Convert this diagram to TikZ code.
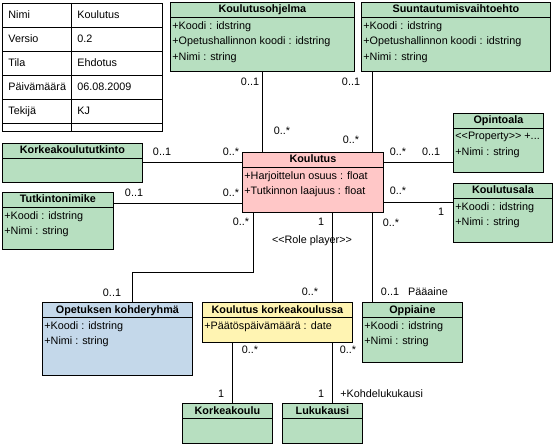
\documentclass[tikz,border=0pt]{standalone}
\usepackage{fontspec}
\setmainfont{Liberation Sans}
\usepackage{xcolor}
\usepackage{tikz}

\definecolor{clsgreen}{RGB}{183,223,192}
\definecolor{clspink}{RGB}{255,199,199}
\definecolor{clsblue}{RGB}{196,216,234}
\definecolor{clsyellow}{RGB}{255,244,178}

\begin{document}
\begin{tikzpicture}[x=1pt,y=-1pt,line width=0.8pt,
  font=\fontsize{10.8}{15.5}\selectfont,
  cls/.style={draw,anchor=north west,inner sep=0pt},
  ttl/.style={font=\fontsize{10.8}{15.5}\selectfont\bfseries,anchor=base,inner sep=0pt},
  attr/.style={anchor=north west,align=left,inner sep=0pt},
  mult/.style={inner sep=0pt}]
  \useasboundingbox (0,0) rectangle (556,446);

  % info table
  \draw (2,3) rectangle (162,131);
  \draw (71,3) -- (71,131);
  \foreach \y in {27,51,75,99,123} \draw (2,\y) -- (162,\y);
  \foreach \k/\v [count=\i] in {Nimi/Koulutus,Versio/0.2,Tila/Ehdotus,
      Päivämäärä/06.08.2009,Tekijä/KJ} {
    \node[anchor=base west,inner sep=0pt] (key\i) at (8,{24*\i-5}) {\k};
    \node[anchor=base west,inner sep=0pt] (val\i) at (77,{24*\i-5}) {\v};
  }

  % classes
  \node[cls,fill=clsgreen,minimum width=184pt,minimum height=69pt] (kohjelma) at (170,2) {};
  \node[ttl] at ([yshift=-11pt]kohjelma.north) {Koulutusohjelma};
  \draw ([yshift=-15pt]kohjelma.north west) -- ([yshift=-15pt]kohjelma.north east);
  \node[attr] at ([xshift=2pt,yshift=-19pt]kohjelma.north west)
    {+Koodi : idstring\\+Opetushallinnon koodi : idstring\\+Nimi : string};

  \node[cls,fill=clsgreen,minimum width=189pt,minimum height=69pt] (suunt) at (361,2) {};
  \node[ttl] at ([yshift=-11pt]suunt.north) {Suuntautumisvaihtoehto};
  \draw ([yshift=-15pt]suunt.north west) -- ([yshift=-15pt]suunt.north east);
  \node[attr] at ([xshift=2pt,yshift=-19pt]suunt.north west)
    {+Koodi : idstring\\+Opetushallinnon koodi : idstring\\+Nimi : string};

  \node[cls,fill=clsgreen,minimum width=140pt,minimum height=39pt] (korktutk) at (2,143) {};
  \node[ttl] at ([yshift=-11pt]korktutk.north) {Korkeakoulututkinto};
  \draw ([yshift=-15pt]korktutk.north west) -- ([yshift=-15pt]korktutk.north east);

  \node[cls,fill=clsgreen,minimum width=111pt,minimum height=57pt] (tutknimike) at (2,192) {};
  \node[ttl] at ([yshift=-11pt]tutknimike.north) {Tutkintonimike};
  \draw ([yshift=-15pt]tutknimike.north west) -- ([yshift=-15pt]tutknimike.north east);
  \node[attr] at ([xshift=2pt,yshift=-19pt]tutknimike.north west)
    {+Koodi : idstring\\+Nimi : string};

  \node[cls,fill=clspink,minimum width=141pt,minimum height=60pt] (koulutus) at (242,152) {};
  \node[ttl] at ([yshift=-11pt]koulutus.north) {Koulutus};
  \draw ([yshift=-15pt]koulutus.north west) -- ([yshift=-15pt]koulutus.north east);
  \node[attr] at ([xshift=2pt,yshift=-19pt]koulutus.north west)
    {+Harjoittelun osuus : float\\+Tutkinnon laajuus : float};

  \node[cls,fill=clsgreen,minimum width=90pt,minimum height=59pt] (opintoala) at (453,113) {};
  \node[ttl] at ([yshift=-11pt]opintoala.north) {Opintoala};
  \draw ([yshift=-15pt]opintoala.north west) -- ([yshift=-15pt]opintoala.north east);
  \node[attr] at ([xshift=2pt,yshift=-19pt]opintoala.north west)
    {<{}<Property>{}> +...\\+Nimi : string};

  \node[cls,fill=clsgreen,minimum width=99pt,minimum height=59pt] (koulutusala) at (453,183) {};
  \node[ttl] at ([yshift=-11pt]koulutusala.north) {Koulutusala};
  \draw ([yshift=-15pt]koulutusala.north west) -- ([yshift=-15pt]koulutusala.north east);
  \node[attr] at ([xshift=2pt,yshift=-19pt]koulutusala.north west)
    {+Koodi : idstring\\+Nimi : string};

  \node[cls,fill=clsblue,minimum width=150pt,minimum height=73pt] (kohderyhma) at (42,302) {};
  \node[ttl] at ([yshift=-11pt]kohderyhma.north) {Opetuksen kohderyhmä};
  \draw ([yshift=-15pt]kohderyhma.north west) -- ([yshift=-15pt]kohderyhma.north east);
  \node[attr] at ([xshift=2pt,yshift=-19pt]kohderyhma.north west)
    {+Koodi : idstring\\+Nimi : string};

  \node[cls,fill=clsyellow,minimum width=150pt,minimum height=40pt] (kkk) at (202,302) {};
  \node[ttl] at ([yshift=-11pt]kkk.north) {Koulutus korkeakoulussa};
  \draw ([yshift=-15pt]kkk.north west) -- ([yshift=-15pt]kkk.north east);
  \node[attr] at ([xshift=2pt,yshift=-19pt]kkk.north west)
    {+Päätöspäivämäärä : date};

  \node[cls,fill=clsgreen,minimum width=100pt,minimum height=60pt] (oppiaine) at (362,302) {};
  \node[ttl] at ([yshift=-11pt]oppiaine.north) {Oppiaine};
  \draw ([yshift=-15pt]oppiaine.north west) -- ([yshift=-15pt]oppiaine.north east);
  \node[attr] at ([xshift=2pt,yshift=-19pt]oppiaine.north west)
    {+Koodi : idstring\\+Nimi : string};

  \node[cls,fill=clsgreen,minimum width=90pt,minimum height=40pt] (korkeakoulu) at (182,403) {};
  \node[ttl] at ([yshift=-11pt]korkeakoulu.north) {Korkeakoulu};
  \draw ([yshift=-15pt]korkeakoulu.north west) -- ([yshift=-15pt]korkeakoulu.north east);

  \node[cls,fill=clsgreen,minimum width=80pt,minimum height=40pt] (lukukausi) at (282,403) {};
  \node[ttl] at ([yshift=-11pt]lukukausi.north) {Lukukausi};
  \draw ([yshift=-15pt]lukukausi.north west) -- ([yshift=-15pt]lukukausi.north east);

  % associations
  \coordinate (vprog) at (262,0);
  \coordinate (vsuun) at (372,0);
  \coordinate (vrole) at (332,0);
  \coordinate (vkork) at (232,0);
  \coordinate (htutk) at (0,203);
  \coordinate (hopin) at (0,162);
  \coordinate (hala) at (0,202);
  \coordinate (bend) at (132,272);

  \draw (vprog |- kohjelma.south) -- (vprog |- koulutus.north);
  \draw (vsuun |- suunt.south) -- (vsuun |- koulutus.north);
  \draw (korktutk.east) -- (korktutk.east -| koulutus.west);
  \draw (htutk -| tutknimike.east) -- (htutk -| koulutus.west);
  \draw (hopin -| koulutus.east) -- (hopin -| opintoala.west);
  \draw (hala -| koulutus.east) -- (hala -| koulutusala.west);
  \draw ([xshift=11pt]koulutus.south west) |- (bend) -- (bend |- kohderyhma.north);
  \draw (vrole |- koulutus.south) -- (vrole |- kkk.north);
  \draw (vsuun |- koulutus.south) -- (vsuun |- oppiaine.north);
  \draw (vkork |- kkk.south) -- (vkork |- korkeakoulu.north);
  \draw (vrole |- kkk.south) -- (vrole |- lukukausi.north);

  % multiplicities and roles
  \node[mult] (m1) at (250,82) {0..1};
  \node[mult] (m2) at (282,131) {0..*};
  \node[mult] (m3) at (351,82) {0..1};
  \node[mult] (m4) at (351,140) {0..*};
  \node[mult] (m5) at (162,152) {0..1};
  \node[mult] (m6) at (231,152) {0..*};
  \node[mult] (m7) at (134,193) {0..1};
  \node[mult] (m8) at (231,193) {0..*};
  \node[mult] (m9) at (398,152) {0..*};
  \node[mult] (m10) at (431,152) {0..1};
  \node[mult] (m11) at (398,191) {0..*};
  \node[mult] (m12) at (441,212) {1};
  \node[mult] (m13) at (241,222) {0..*};
  \node[mult] (m14) at (321,222) {1};
  \node[mult] (m15) at (391,223) {0..*};
  \node[mult] (role) at (312,241) {<{}<Role player>{}>};
  \node[mult] (m16) at (112,293) {0..1};
  \node[mult] (m17) at (310,292) {0..*};
  \node[mult] (m18) at (390,292) {0..1};
  \node[mult] (paaaine) at (428,292) {Pääaine};
  \node[mult] (m19) at (250,350) {0..*};
  \node[mult] (m20) at (348,350) {0..*};
  \node[mult] (m21) at (221,394) {1};
  \node[mult] (m22) at (321,394) {1};
  \node[mult,anchor=west] (kohde) at (340,394) {+Kohdelukukausi};
\end{tikzpicture}
\end{document}
